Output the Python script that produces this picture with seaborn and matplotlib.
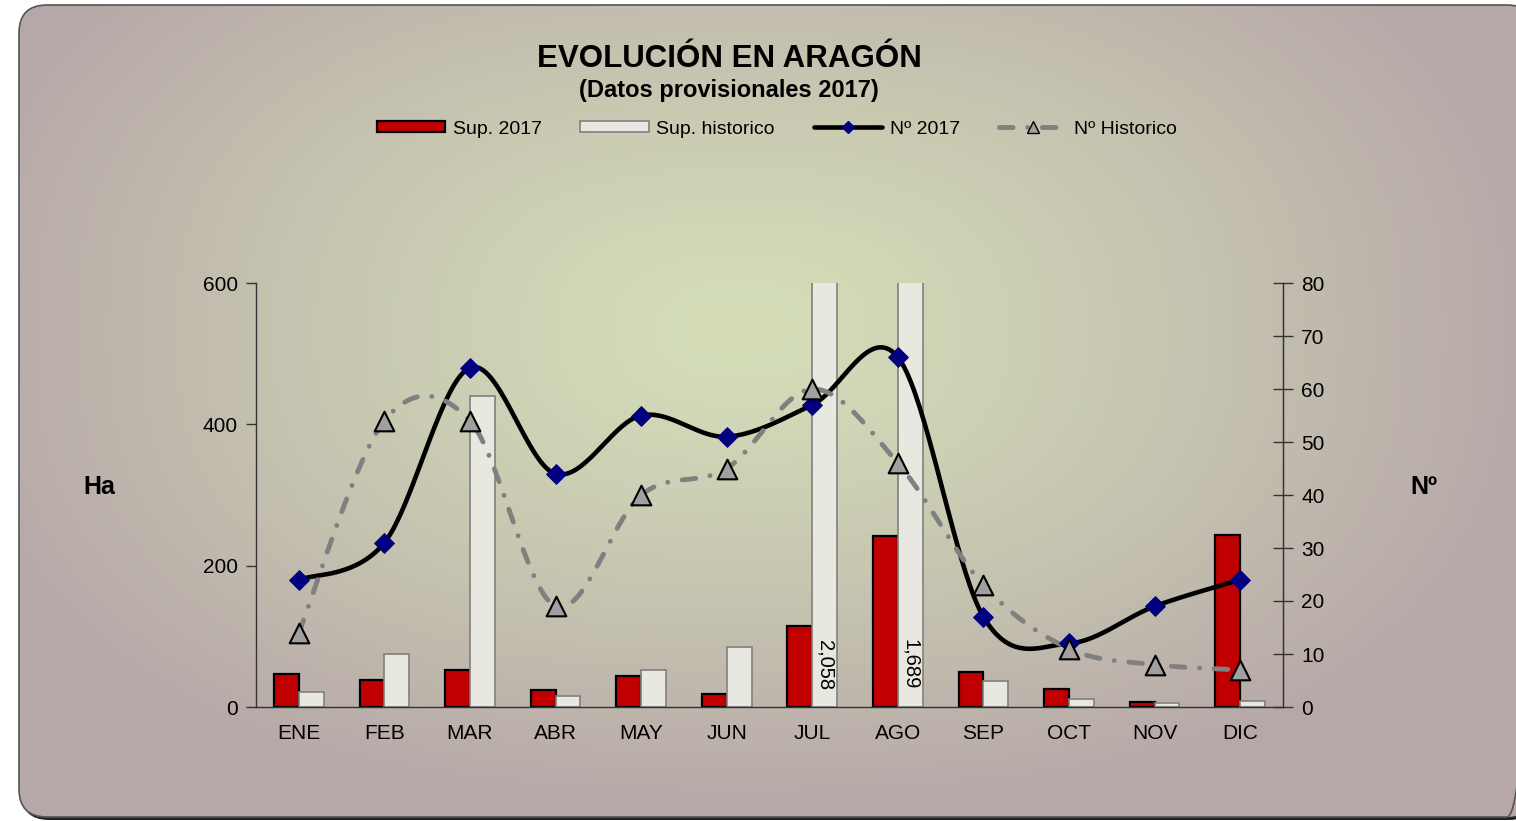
import numpy as np
import pandas as pd
import seaborn as sns
import matplotlib.pyplot as plt
from matplotlib.patches import FancyBboxPatch, Patch
from matplotlib.lines import Line2D

# Data
meses = ["ENE", "FEB", "MAR", "ABR", "MAY", "JUN", "JUL", "AGO", "SEP", "OCT", "NOV", "DIC"]
sup_2017 = [47, 38, 52, 24, 44, 18, 115, 242, 50, 25, 7, 243]
sup_historico = [21, 75, 440, 15, 52, 85, 2058, 1689, 37, 11, 6, 8]
num_2017 = [24, 31, 64, 44, 55, 51, 57, 66, 17, 12, 19, 24]
num_historico = [14, 54, 54, 19, 40, 45, 60, 46, 23, 11, 8, 7]

RED = "#c00000"
WHITE_BAR = "#e8e8e0"
NAVY = "#000080"
GREY = "#808080"


def smooth(y, n=40):
    # Catmull-Rom style smoothing (like Excel "smoothed line")
    y = np.asarray(y, dtype=float)
    x = np.arange(len(y), dtype=float)
    px = np.concatenate([[x[0]], x, [x[-1]]])
    py = np.concatenate([[y[0]], y, [y[-1]]])
    xs, ys = [], []
    t = np.linspace(0, 1, n)
    for i in range(len(y) - 1):
        p0, p1, p2, p3 = [np.array([px[j], py[j]]) for j in range(i, i + 4)]
        b1 = p1 + (p2 - p0) / 6
        b2 = p2 - (p3 - p1) / 6
        pts = ((1 - t) ** 3)[:, None] * p1 + (3 * (1 - t) ** 2 * t)[:, None] * b1 \
            + (3 * (1 - t) * t ** 2)[:, None] * b2 + (t ** 3)[:, None] * p2
        xs.extend(pts[:, 0])
        ys.extend(pts[:, 1])
    return np.array(xs), np.array(ys)


sns.set_style("white")
plt.rcParams["font.family"] = ["Liberation Sans", "DejaVu Sans"]
plt.rcParams["text.color"] = "black"
plt.rcParams["xtick.color"] = "black"
plt.rcParams["ytick.color"] = "black"

W, H = 1516, 821
fig = plt.figure(figsize=(W / 100, H / 100), dpi=100, facecolor="white")

# background panel with gradient
bg = fig.add_axes([0, 0, 1, 1], zorder=-10)
bg.set_xlim(0, W)
bg.set_ylim(H, 0)
bg.axis("off")
yy, xx = np.mgrid[0:H, 0:W]
cx, cy = 740, 330
p = 2.5
tt = ((np.abs(xx - cx) / 800) ** p + (np.abs(yy - cy) / 480) ** p) ** (1 / p)
tt = np.clip(tt, 0, 1) ** 1.3
c_in = np.array([212, 221, 184]) / 255
c_out = np.array([182, 167, 168]) / 255
img = c_in[None, None, :] + (c_out - c_in)[None, None, :] * tt[:, :, None]
shadow = FancyBboxPatch((21, 8), 1516, 812, boxstyle="round,pad=0,rounding_size=28",
                        facecolor="#222222", edgecolor="none")
bg.add_patch(shadow)
panel = FancyBboxPatch((19, 5), 1516, 812, boxstyle="round,pad=0,rounding_size=28",
                       facecolor="none", edgecolor="#555555", linewidth=1.2)
bg.add_patch(panel)
im = bg.imshow(img, extent=[0, W, H, 0], aspect="auto", zorder=1)
im.set_clip_path(panel)
panel.set_zorder(2)

# main axes
ax = fig.add_axes([256 / W, 1 - 707 / H, (1283 - 256) / W, (707 - 283) / H])
ax.set_facecolor("none")

df = pd.DataFrame({
    "mes": meses * 2,
    "ha": sup_2017 + sup_historico,
    "serie": ["Sup. 2017"] * 12 + ["Sup. historico"] * 12,
})
sns.barplot(data=df, x="mes", y="ha", hue="serie", order=meses,
            hue_order=["Sup. 2017", "Sup. historico"],
            palette={"Sup. 2017": RED, "Sup. historico": WHITE_BAR},
            width=0.58, saturation=1, legend=False, ax=ax, zorder=2)
for bar in ax.containers[0]:
    bar.set_edgecolor("black")
    bar.set_linewidth(1.6)
for bar in ax.containers[1]:
    bar.set_edgecolor(GREY)
    bar.set_linewidth(1.2)

ax.set_ylim(0, 600)
ax.set_xlim(-0.5, 11.5)
ax.set_yticks([0, 200, 400, 600])
ax.set_xlabel("")
ax.set_ylabel("")

# labels for bars cut by the axis
for bar, v in zip(ax.containers[1], sup_historico):
    if v > 600:
        ax.text(bar.get_x() + bar.get_width() / 2, 60, f"{v:,.0f}", rotation=-90,
                ha="center", va="center", fontsize=14.5, color="black", zorder=5)

ax.set_xticks(np.arange(len(meses)))
ax.set_xticklabels(meses)
ax.set_xticks(np.arange(-0.5, len(meses), 1), minor=True)
ax.tick_params(axis="x", which="major", length=0, pad=12, labelsize=15)
ax.tick_params(axis="x", which="minor", length=7, width=1, color="#333333", direction="out")
ax.tick_params(axis="y", length=7, width=1, color="#333333", direction="out", pad=6, labelsize=15)
for s in ["left", "bottom", "right"]:
    ax.spines[s].set_color("#333333")
    ax.spines[s].set_linewidth(1)
ax.spines["top"].set_visible(False)

# secondary axis with counts
ax2 = ax.twinx()
ax2.set_facecolor("none")
ax2.set_ylim(0, 80)
ax2.set_yticks(range(0, 81, 10))
ax2.tick_params(axis="y", length=14, width=1, color="#333333", direction="inout", pad=6, labelsize=15)
for s in ["left", "bottom", "top"]:
    ax2.spines[s].set_visible(False)
ax2.spines["right"].set_color("#333333")

xs, ys = smooth(num_2017)
sns.lineplot(x=xs, y=ys, sort=False, estimator=None, color="black", linewidth=3.3, ax=ax2)
sns.scatterplot(x=np.arange(12), y=num_2017, marker="D", s=100, color=NAVY,
                edgecolor=NAVY, ax=ax2, zorder=4)

xh, yh = smooth(num_historico)
sns.lineplot(x=xh, y=yh, sort=False, estimator=None, color=GREY, linewidth=3.5, ax=ax2)
ln = ax2.lines[-1]
ln.set_linestyle((0, (2.8, 3.0, 0.01, 3.0)))
ln.set_dash_capstyle("round")
sns.scatterplot(x=np.arange(12), y=num_historico, marker="^", s=200, color="#a0a0a0",
                edgecolor="black", linewidth=1.5, ax=ax2, zorder=5)
ax2.set_xlim(-0.5, 11.5)
ax2.set_ylabel("")

# titles and axis names
fig.text(729 / W, 1 - 59 / H, "EVOLUCIÓN EN ARAGÓN", ha="center", va="center",
         fontsize=22.5, fontweight="bold")
fig.text(729 / W, 1 - 91 / H, "(Datos provisionales 2017)", ha="center", va="center",
         fontsize=17, fontweight="bold")
fig.text(99 / W, 1 - 487 / H, "Ha", ha="center", va="center", fontsize=18, fontweight="bold")
fig.text(1424 / W, 1 - 487 / H, "Nº", ha="center", va="center", fontsize=18, fontweight="bold")

handles = [
    Patch(facecolor=RED, edgecolor="black", linewidth=1.6, label="Sup. 2017"),
    Patch(facecolor=WHITE_BAR, edgecolor=GREY, linewidth=1.2, label="Sup. historico"),
    Line2D([], [], color="black", linewidth=3.3, marker="D", markersize=6,
           markerfacecolor=NAVY, markeredgecolor=NAVY, label="Nº 2017"),
    Line2D([], [], color=GREY, linewidth=3.5, linestyle=(0, (2.8, 3.0, 0.01, 3.0)),
           dash_capstyle="round", marker="^", markersize=8, markerfacecolor="#a0a0a0",
           markeredgecolor="black", label="Nº Historico"),
]
fig.legend(handles=handles, loc="center", bbox_to_anchor=(777 / W, 1 - 129 / H), ncol=4,
           frameon=False, fontsize=14, handlelength=3.5, handleheight=0.5,
           handletextpad=0.4, columnspacing=2.0)

fig.savefig("out.png", dpi=100, facecolor="white")
